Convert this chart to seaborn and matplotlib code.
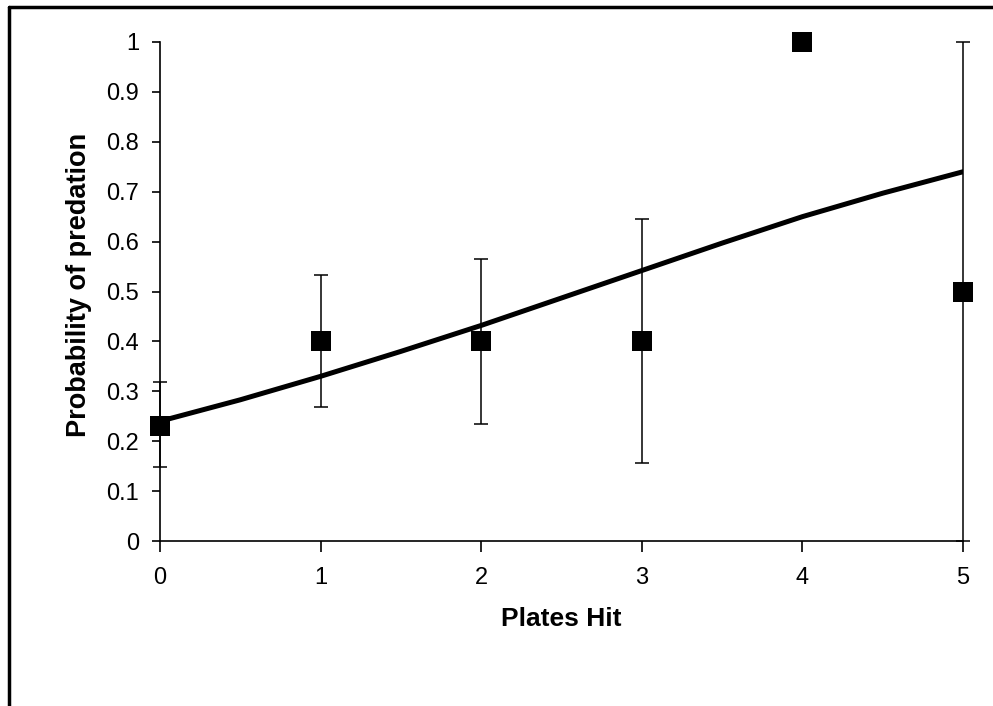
import matplotlib
matplotlib.use("Agg")
import matplotlib.pyplot as plt
import seaborn as sns
import pandas as pd
from matplotlib.lines import Line2D

sns.set_theme(style="white")
plt.rcParams['font.family'] = ['Liberation Sans', 'DejaVu Sans']

# Observed data
plates = [0, 1, 2, 3, 4, 5]
prob = [0.23, 0.40, 0.40, 0.40, 1.00, 0.50]
err_low = [0.148, 0.268, 0.235, 0.157, None, 0.0]
err_high = [0.318, 0.533, 0.565, 0.645, None, 1.0]

# Fitted curve
curve_x = [0, 0.5, 1, 1.5, 2, 2.5, 3, 3.5, 4, 4.5, 5]
curve_y = [0.240, 0.283, 0.330, 0.380, 0.432, 0.487, 0.542, 0.597, 0.650, 0.697, 0.740]

x_ticks = [0, 1, 2, 3, 4, 5]
y_ticks = [0, 0.1, 0.2, 0.3, 0.4, 0.5, 0.6, 0.7, 0.8, 0.9, 1]
y_labels = ["0", "0.1", "0.2", "0.3", "0.4", "0.5", "0.6", "0.7", "0.8", "0.9", "1"]

fig = plt.figure(figsize=(9.93, 7.06), dpi=100)
ax = fig.add_axes([160/993, 1-541/706, (963-160)/993, (541-42)/706])

df_curve = pd.DataFrame({"x": curve_x, "y": curve_y})
sns.lineplot(data=df_curve, x="x", y="y", ax=ax, color="black", linewidth=3.6, zorder=3)

# error bars
for xi, lo, hi, yi in zip(plates, err_low, err_high, prob):
    if lo is None:
        continue
    ax.errorbar([xi], [yi], yerr=[[yi - lo], [hi - yi]], fmt="none", ecolor="black",
                elinewidth=1.1, capsize=5, capthick=1.1, zorder=2, clip_on=False)

df_pts = pd.DataFrame({"x": plates, "y": prob})
sns.scatterplot(data=df_pts, x="x", y="y", ax=ax, marker="s", s=190, color="black",
                edgecolor="black", linewidth=0, zorder=4, clip_on=False)

ax.set_xlim(0, 5)
ax.set_ylim(0, 1)
ax.set_xticks(x_ticks)
ax.set_xticklabels([str(v) for v in x_ticks], fontsize=17)
ax.set_yticks(y_ticks)
ax.set_yticklabels(y_labels, fontsize=17)
for s in ["top", "right"]:
    ax.spines[s].set_visible(False)
for s in ["left", "bottom"]:
    ax.spines[s].set_color("black")
    ax.spines[s].set_linewidth(1.2)
ax.tick_params(axis="y", direction="out", length=6, width=1.2, color="black", pad=9, labelcolor="black", left=True)
ax.tick_params(axis="x", direction="out", length=8, width=1.2, color="black", pad=11, labelcolor="black", bottom=True)

ax.set_xlabel("Plates Hit", fontsize=19, fontweight="bold", color="black")
ax.set_ylabel("Probability of predation", fontsize=19.5, fontweight="bold", color="black")
ax.xaxis.set_label_coords(0.5, (541-619)/499)
ax.yaxis.set_label_coords((79-160)/803, (541-285)/499)
ax.xaxis.label.set_va("center")
ax.yaxis.label.set_va("center")

# outer frame (cropped on the right and bottom)
fig.add_artist(Line2D([9/993, 9/993], [1-7/706, 0], transform=fig.transFigure, color="black", linewidth=2.5))
fig.add_artist(Line2D([9/993, 1], [1-7/706, 1-7/706], transform=fig.transFigure, color="black", linewidth=2.5))

fig.savefig("out.png", dpi=100)
